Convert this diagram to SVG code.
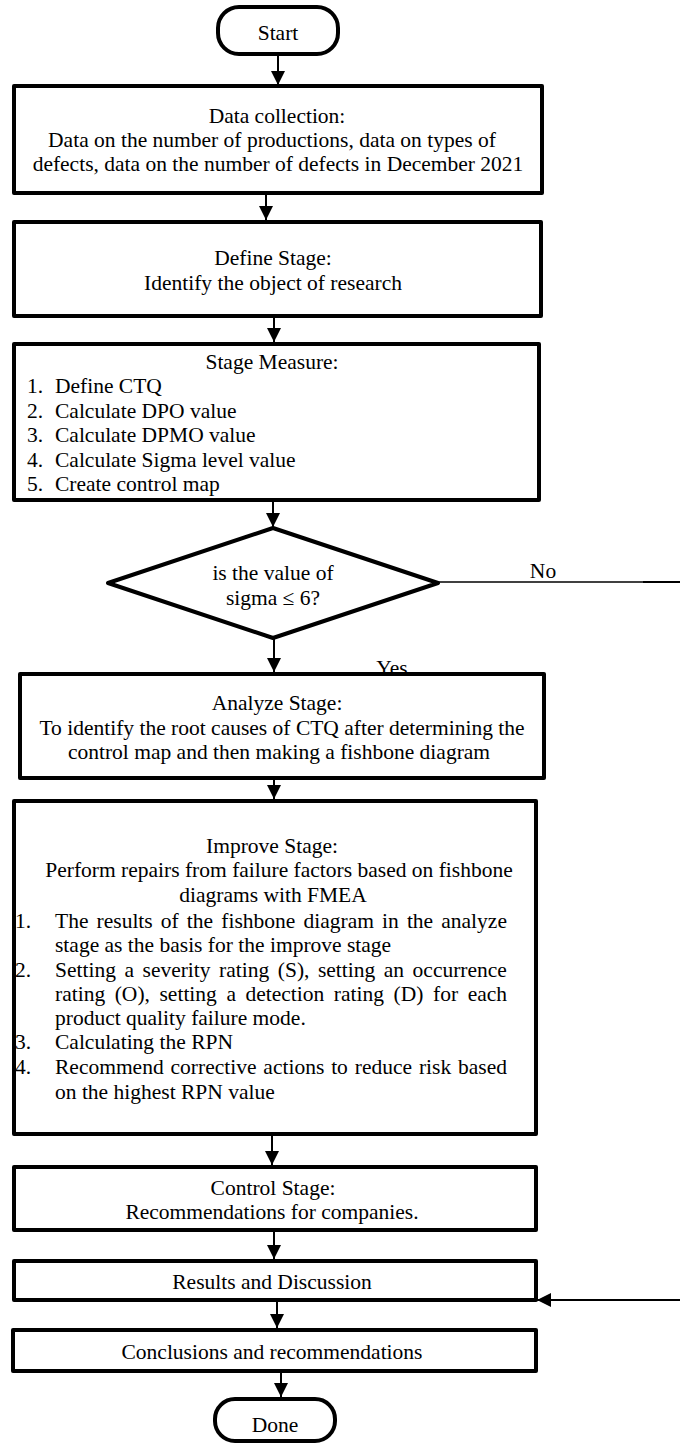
<svg xmlns="http://www.w3.org/2000/svg" width="680" height="1445" viewBox="0 0 680 1445">
  <style>
    .box { fill: #ffffff; stroke: #000000; stroke-width: 4; stroke-linejoin: round; }
    .edge { fill: none; stroke: #000000; stroke-width: 4; stroke-linejoin: round; }
    .conn { fill: none; stroke: #000000; stroke-width: 2; }
    .thin { fill: none; stroke: #000000; stroke-width: 1.5; }
    text { font-family: "Liberation Serif", "Times New Roman", serif; font-size: 21.5px; fill: #000000; }
    .c { text-anchor: middle; }
  </style>
  <defs>
    <marker id="arrow" markerUnits="userSpaceOnUse" markerWidth="14" markerHeight="14" refX="14" refY="7" orient="auto">
      <path d="M0,0 L14,7 L0,14 Z" fill="#000000"/>
    </marker>
  </defs>
  <rect x="0" y="0" width="680" height="1445" fill="#ffffff"/>

  <g id="connectors">
    <line class="conn" x1="278" y1="54" x2="278" y2="85" marker-end="url(#arrow)"/>
    <line class="conn" x1="266" y1="193" x2="266" y2="220" marker-end="url(#arrow)"/>
    <line class="conn" x1="274" y1="316" x2="274" y2="342" marker-end="url(#arrow)"/>
    <line class="conn" x1="273" y1="500" x2="273" y2="527" marker-end="url(#arrow)"/>
    <line class="conn" x1="274" y1="630" x2="274" y2="672" marker-end="url(#arrow)"/>
    <line class="conn" x1="274" y1="778" x2="274" y2="799" marker-end="url(#arrow)"/>
    <line class="conn" x1="272" y1="1134" x2="272" y2="1165" marker-end="url(#arrow)"/>
    <line class="conn" x1="274" y1="1230" x2="274" y2="1259" marker-end="url(#arrow)"/>
    <line class="conn" x1="277" y1="1300" x2="277" y2="1328" marker-end="url(#arrow)"/>
    <line class="conn" x1="281" y1="1371" x2="281" y2="1397" marker-end="url(#arrow)"/>
    <line class="thin" x1="438" y1="582" x2="643" y2="582"/>
    <line class="conn" x1="643" y1="582" x2="680" y2="582"/>
    <line class="conn" x1="680" y1="1300" x2="537" y2="1300" marker-end="url(#arrow)"/>
    <text x="543" y="578" class="c">No</text>
    <text x="392" y="675" class="c">Yes</text>
  </g>

  <g id="start">
    <rect class="box" x="218" y="7" width="120" height="47" rx="21"/>
    <text x="278" y="40" class="c">Start</text>
  </g>

  <g id="data-collection">
    <rect class="box" x="14" y="86" width="528" height="107"/>
    <text x="277" y="122.5" class="c">Data collection:</text>
    <text x="272" y="146.5" class="c">Data on the number of productions, data on types of</text>
    <text x="278" y="170.5" class="c">defects, data on the number of defects in December 2021</text>
  </g>

  <g id="define">
    <rect class="box" x="14" y="222" width="527" height="94"/>
    <text x="273" y="265" class="c">Define Stage:</text>
    <text x="273" y="290" class="c">Identify the object of research</text>
  </g>

  <g id="measure">
    <rect class="box" x="14" y="344" width="525" height="156"/>
    <text x="272" y="369" class="c">Stage Measure:</text>
    <text x="27" y="393">1.</text><text x="55" y="393">Define CTQ</text>
    <text x="27" y="418">2.</text><text x="55" y="418">Calculate DPO value</text>
    <text x="27" y="442">3.</text><text x="55" y="442">Calculate DPMO value</text>
    <text x="27" y="467">4.</text><text x="55" y="467">Calculate Sigma level value</text>
    <text x="27" y="491">5.</text><text x="55" y="491">Create control map</text>
  </g>

  <g id="decision">
    <polygon class="box" points="273,528 438,583 273,638 108,583"/>
    <text x="273" y="580" class="c">is the value of</text>
    <text x="273" y="605" class="c">sigma ≤ 6?</text>
  </g>

  <g id="analyze">
    <rect class="box" x="20" y="674" width="524" height="104"/>
    <text x="277" y="710" class="c">Analyze Stage:</text>
    <text x="282" y="734.5" class="c">To identify the root causes of CTQ after determining the</text>
    <text x="279" y="759" class="c">control map and then making a fishbone diagram</text>
  </g>

  <g id="improve">
    <rect x="14" y="801" width="522" height="333" fill="#ffffff"/>
    <text x="272" y="853" class="c">Improve Stage:</text>
    <text x="279" y="877" class="c">Perform repairs from failure factors based on fishbone</text>
    <text x="273" y="902" class="c">diagrams with FMEA</text>
    <text x="15" y="928">1.</text>
    <text x="55" y="928" word-spacing="2.76">The results of the fishbone diagram in the analyze</text>
    <text x="55" y="952">stage as the basis for the improve stage</text>
    <text x="15" y="977">2.</text>
    <text x="55" y="977" word-spacing="3.15">Setting a severity rating (S), setting an occurrence</text>
    <text x="55" y="1001" word-spacing="4.19">rating (O), setting a detection rating (D) for each</text>
    <text x="55" y="1025">product quality failure mode.</text>
    <text x="15" y="1049">3.</text>
    <text x="55" y="1049">Calculating the RPN</text>
    <text x="15" y="1074">4.</text>
    <text x="55" y="1074" word-spacing="1.5">Recommend corrective actions to reduce risk based</text>
    <text x="55" y="1099">on the highest RPN value</text>
    <rect class="edge" x="14" y="801" width="522" height="333"/>
  </g>

  <g id="control">
    <rect class="box" x="14" y="1167" width="522" height="63"/>
    <text x="273" y="1195" class="c">Control Stage:</text>
    <text x="272" y="1219" class="c">Recommendations for companies.</text>
  </g>

  <g id="results">
    <rect class="box" x="14" y="1261" width="522" height="39"/>
    <text x="272" y="1289" class="c">Results and Discussion</text>
  </g>

  <g id="conclusions">
    <rect class="box" x="13" y="1330" width="523" height="41"/>
    <text x="272" y="1359" class="c">Conclusions and recommendations</text>
  </g>

  <g id="done">
    <rect class="box" x="215" y="1399" width="120" height="42" rx="20"/>
    <text x="275" y="1432" class="c">Done</text>
  </g>
</svg>
